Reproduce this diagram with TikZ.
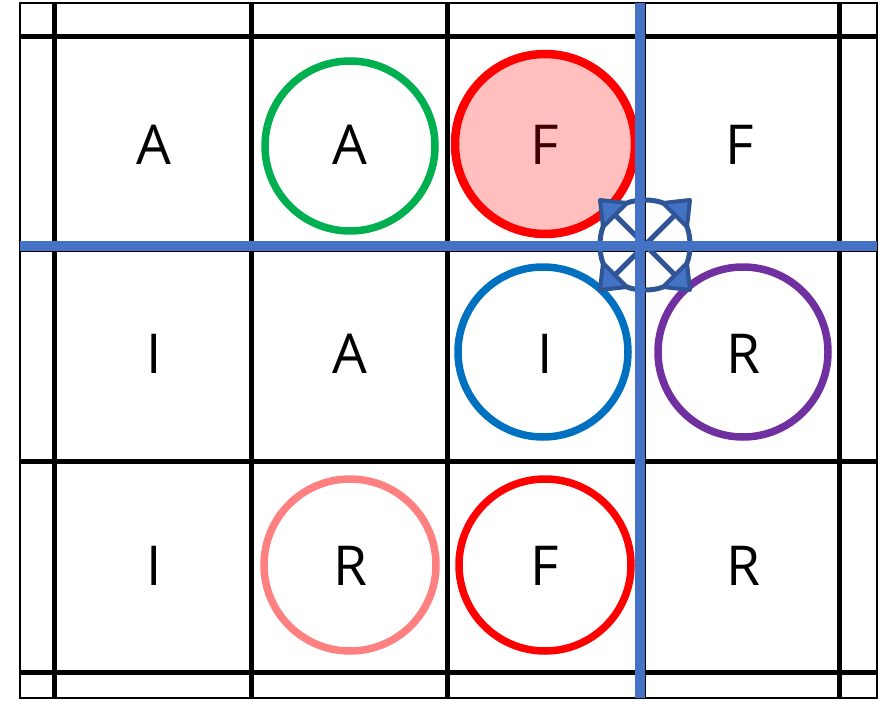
\documentclass[tikz,border=0pt]{standalone}
\usepackage{fontspec}
\setmainfont{Open Sans}
\definecolor{gridblue}{RGB}{68,114,196}
\definecolor{icondark}{RGB}{47,85,151}
\definecolor{cgreen}{RGB}{0,176,80}
\definecolor{cred}{RGB}{255,0,0}
\definecolor{cpink}{RGB}{255,191,191}
\definecolor{cblue}{RGB}{0,112,192}
\definecolor{cpurple}{RGB}{112,48,160}
\definecolor{csalmon}{RGB}{255,128,128}
\definecolor{maroon}{RGB}{60,0,0}
\tikzset{
  gridline/.style={line width=5pt, black},
  bigline/.style={line width=10pt, gridblue},
  ring/.style={circle, minimum size=#1, inner sep=0pt},
  letter/.style={inner sep=0pt, font=\fontsize{55}{62}\selectfont},
  headfill/.style={fill=gridblue, draw=icondark, line width=4pt, line join=round},
  iconline/.style={draw=icondark, line width=5pt, line join=round, line cap=round}
}
\begin{document}
\begin{tikzpicture}[x=1pt,y=-1pt]
\useasboundingbox (0,0) rectangle (889,701);
\fill[white] (0,0) rectangle (889,701);
% grid
\foreach \gx in {54,251,447,643,839} \draw[gridline] (\gx,3) -- (\gx,698);
\foreach \gy in {37,249,461,672} \draw[gridline] (20,\gy) -- (877,\gy);
\draw[line width=2.5pt] (20,3) rectangle (877,698);
% circles
\node[ring=170pt, draw=cgreen, line width=7.5pt] (cA) at (350,146) {};
\node[ring=180pt, draw=cred, fill=cpink, line width=8.5pt] (cF) at (545,144) {};
\node[ring=170pt, draw=cblue, line width=7.5pt] (cI) at (543,352) {};
\node[ring=170pt, draw=cpurple, line width=7.5pt] (cR) at (743,352) {};
\node[ring=172pt, draw=csalmon, line width=7.5pt] (cR2) at (350,565) {};
\node[ring=172pt, draw=cred, line width=7.5pt] (cF2) at (545,565) {};
% letters
\node[letter] (l11) at (154,145) {A};
\node[letter] (l12) at (350,145) {A};
\node[letter, text=maroon] (l13) at (545,145) {F};
\node[letter] (l14) at (740,145) {F};
\node[letter] (l21) at (154,354) {I};
\node[letter] (l22) at (350,354) {A};
\node[letter] (l23) at (545,354) {I};
\node[letter] (l24) at (743,354) {R};
\node[letter] (l31) at (154,566) {I};
\node[letter] (l32) at (350,566) {R};
\node[letter] (l33) at (545,566) {F};
\node[letter] (l34) at (743,566) {R};
% four-way arrow icon
\begin{scope}[shift={(645,245)}]
  \coordinate (ic) at (0,0);
  \draw[iconline] (18,-42) .. controls (8,-46) and (-8,-46) .. (-18,-42);
  \draw[iconline] (18,42) .. controls (8,46) and (-8,46) .. (-18,42);
  \draw[iconline] (42,18) .. controls (46,8) and (46,-8) .. (42,-18);
  \draw[iconline] (-42,18) .. controls (-46,8) and (-46,-8) .. (-42,-18);
  \draw[iconline] (-30,-30) -- (30,30);
  \draw[iconline] (30,-30) -- (-30,30);
  \foreach \sx/\sy in {1/1,1/-1,-1/1,-1/-1}{
    \draw[headfill] (45*\sx,45*\sy) -- (18*\sx,42*\sy) -- (42*\sx,18*\sy) -- cycle;
  }
\end{scope}
% blue axes
\draw[bigline] (640,3) -- (640,698);
\draw[bigline] (20,246) -- (877,246);
\end{tikzpicture}
\end{document}
